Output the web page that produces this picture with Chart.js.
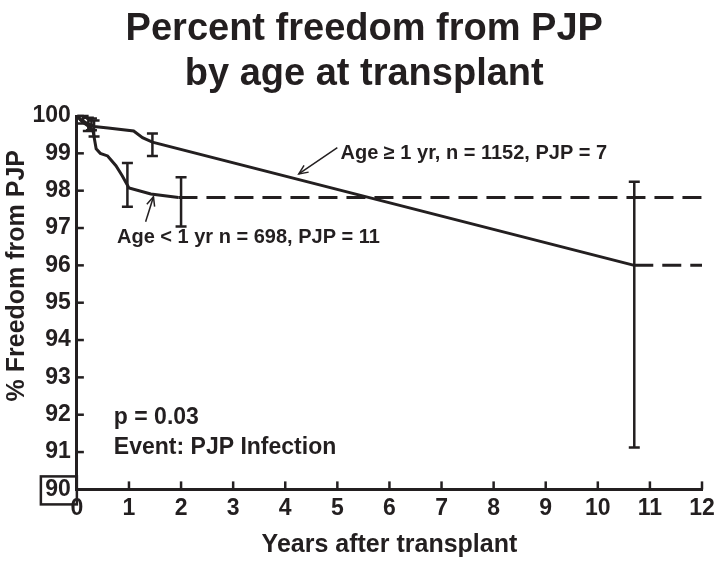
<!DOCTYPE html>
<html>
<head>
<meta charset="utf-8">
<script src="https://cdn.jsdelivr.net/npm/chart.js@4/dist/chart.umd.min.js"></script>
<style>
html,body{margin:0;padding:0;background:#fff;}
canvas{display:block;}
</style>
</head>
<body>
<canvas id="c" width="724" height="566"></canvas>
<script>
// ---- Data ----
const xTicks = [0,1,2,3,4,5,6,7,8,9,10,11,12];
const yTicks = [90,91,92,93,94,95,96,97,98,99,100];

// Age >= 1 yr curve (solid)
const olderX = [0, 0.08, 0.2, 0.33, 0.6, 1.09, 1.26, 1.45, 10.7];
const olderY = [100, 99.9, 99.8, 99.72, 99.68, 99.6, 99.42, 99.3, 96.0];
// Age >= 1 yr censored tail (dashed)
const olderTailX = [10.7, 12];
const olderTailY = [96.0, 96.0];

// Age < 1 yr curve (solid)
const youngX = [0, 0.1, 0.25, 0.31, 0.37, 0.45, 0.59, 0.75, 0.87, 1.0, 1.42, 1.95];
const youngY = [100, 99.85, 99.7, 99.6, 99.12, 99.0, 98.93, 98.67, 98.4, 98.07, 97.91, 97.82];
// Age < 1 yr censored tail (dashed)
const youngTailX = [1.95, 12];
const youngTailY = [97.82, 97.82];

// Confidence bars
const olderErrX = [0.12, 0.28, 1.45, 10.7];
const olderErrLow = [99.8, 99.62, 98.93, 91.12];
const olderErrHigh = [100.0, 99.93, 99.53, 98.24];
const youngErrX = [0.22, 0.33, 0.97, 2.0];
const youngErrLow = [99.6, 99.45, 97.57, 97.04];
const youngErrHigh = [99.95, 99.88, 98.74, 98.36];

// Texts
const titleLines = ['Percent freedom from PJP', 'by age at transplant'];
const xTitle = 'Years after transplant';
const yTitle = '% Freedom from PJP';
const olderLabel = 'Age \u2265 1 yr, n = 1152, PJP = 7';
const youngLabel = 'Age < 1 yr n = 698, PJP = 11';
const pLabel = 'p = 0.03';
const eventLabel = 'Event: PJP Infection';

// ---- Styling ----
const INK = '#231f20';
const FONT = '"Liberation Sans", Arial, Helvetica, sans-serif';

function pts(xs, ys){ return xs.map((x,i)=>({x:x, y:ys[i]})); }

const annotations = [
  {text: olderLabel, x: 5.06, y: 98.85, size: 20, arrow: {from:[5.0, 99.15], to:[4.26, 98.45]}},
  {text: youngLabel, x: 0.77, y: 96.59, size: 20, arrow: {from:[1.32, 97.17], to:[1.47, 97.84]}},
  {text: pLabel, x: 0.71, y: 91.76, size: 23},
  {text: eventLabel, x: 0.71, y: 90.96, size: 23}
];

const decor = {
  id: 'decor',
  afterDatasetsDraw(chart){
    const ctx = chart.ctx;
    const xs = chart.scales.x, ys = chart.scales.y;
    const ca = chart.chartArea;
    ctx.save();
    ctx.strokeStyle = INK; ctx.fillStyle = INK;
    // error bars
    ctx.lineWidth = 2.5; ctx.lineCap = 'butt';
    const drawErr = (X, L, H) => {
      X.forEach((x,i)=>{
        const px = xs.getPixelForValue(x);
        const pl = ys.getPixelForValue(L[i]);
        const ph = ys.getPixelForValue(H[i]);
        const hw = 5.5;
        ctx.beginPath();
        ctx.moveTo(px, pl); ctx.lineTo(px, ph);
        ctx.moveTo(px-hw, pl); ctx.lineTo(px+hw, pl);
        ctx.moveTo(px-hw, ph); ctx.lineTo(px+hw, ph);
        ctx.stroke();
      });
    };
    drawErr(olderErrX, olderErrLow, olderErrHigh);
    drawErr(youngErrX, youngErrLow, youngErrHigh);

    // inward tick marks
    ctx.lineWidth = 2.5;
    xTicks.forEach(v=>{
      if (v === 0) return;
      const px = xs.getPixelForValue(v);
      ctx.beginPath(); ctx.moveTo(px, ca.bottom); ctx.lineTo(px, ca.bottom-8); ctx.stroke();
    });
    yTicks.forEach(v=>{
      if (v === 90) return;
      const py = ys.getPixelForValue(v);
      ctx.beginPath(); ctx.moveTo(ca.left, py); ctx.lineTo(ca.left+7, py); ctx.stroke();
    });

    // box around the "90" label
    const y90 = ys.getPixelForValue(90);
    ctx.lineWidth = 2.5;
    ctx.strokeRect(ca.left-36, y90-13, 36, 28);

    // annotations
    annotations.forEach(a=>{
      ctx.font = 'bold ' + a.size + 'px ' + FONT;
      ctx.textAlign = 'left'; ctx.textBaseline = 'alphabetic';
      ctx.fillText(a.text, xs.getPixelForValue(a.x), ys.getPixelForValue(a.y));
      if (a.arrow){
        const x1 = xs.getPixelForValue(a.arrow.from[0]), y1 = ys.getPixelForValue(a.arrow.from[1]);
        const x2 = xs.getPixelForValue(a.arrow.to[0]), y2 = ys.getPixelForValue(a.arrow.to[1]);
        ctx.lineWidth = 1.5;
        ctx.beginPath(); ctx.moveTo(x1,y1); ctx.lineTo(x2,y2); ctx.stroke();
        const ang = Math.atan2(y2-y1, x2-x1);
        const L = 10, sp = 0.42;
        ctx.beginPath();
        ctx.moveTo(x2 - L*Math.cos(ang-sp), y2 - L*Math.sin(ang-sp));
        ctx.lineTo(x2, y2);
        ctx.lineTo(x2 - L*Math.cos(ang+sp), y2 - L*Math.sin(ang+sp));
        ctx.stroke();
      }
    });

    // rotated y-axis title
    ctx.save();
    ctx.translate(17.5, (ca.top+ca.bottom)/2 - 27);
    ctx.rotate(-Math.PI/2);
    ctx.font = 'bold 25px ' + FONT;
    ctx.textAlign = 'center'; ctx.textBaseline = 'middle';
    ctx.fillText(yTitle, 0, 0);
    ctx.restore();

    ctx.restore();
  }
};

const lineStyle = {borderColor: INK, borderWidth: 3, pointRadius: 0, tension: 0, fill: false, clip: false};

new Chart(document.getElementById('c'), {
  type: 'line',
  data: {
    datasets: [
      Object.assign({label: 'Age >= 1 yr', data: pts(olderX, olderY)}, lineStyle),
      Object.assign({label: 'Age >= 1 yr (censored)', data: pts(olderTailX, olderTailY), borderDash: [19, 9]}, lineStyle),
      Object.assign({label: 'Age < 1 yr', data: pts(youngX, youngY)}, lineStyle),
      Object.assign({label: 'Age < 1 yr (censored)', data: pts(youngTailX, youngTailY), borderDash: [19, 9]}, lineStyle)
    ]
  },
  options: {
    responsive: false,
    animation: false,
    devicePixelRatio: 1,
    layout: {padding: {left: 26.5, right: 22, top: 0, bottom: 6}},
    plugins: {
      legend: {display: false},
      tooltip: {enabled: false},
      title: {
        display: true,
        text: titleLines,
        color: INK,
        font: {family: FONT, size: 38, weight: 'bold', lineHeight: 45/38},
        padding: {top: 7, bottom: 19}
      }
    },
    scales: {
      x: {
        type: 'linear', min: 0, max: 12,
        afterBuildTicks: (s) => { s.ticks = xTicks.map(v=>({value: v})); },
        ticks: {color: INK, font: {family: FONT, size: 23, weight: 'bold'}, padding: 5, maxRotation: 0, autoSkip: false},
        grid: {display: false, drawTicks: false},
        border: {display: true, color: INK, width: 3},
        title: {display: true, text: xTitle, color: INK, font: {family: FONT, size: 25, weight: 'bold'}, padding: {top: 3, bottom: 0}}
      },
      y: {
        type: 'linear', min: 90, max: 100,
        afterBuildTicks: (s) => { s.ticks = yTicks.map(v=>({value: v})); },
        ticks: {color: INK, font: {family: FONT, size: 23, weight: 'bold'}, padding: 6, autoSkip: false},
        grid: {display: false, drawTicks: false},
        border: {display: true, color: INK, width: 3}
      }
    }
  },
  plugins: [decor]
});
</script>
</body>
</html>
